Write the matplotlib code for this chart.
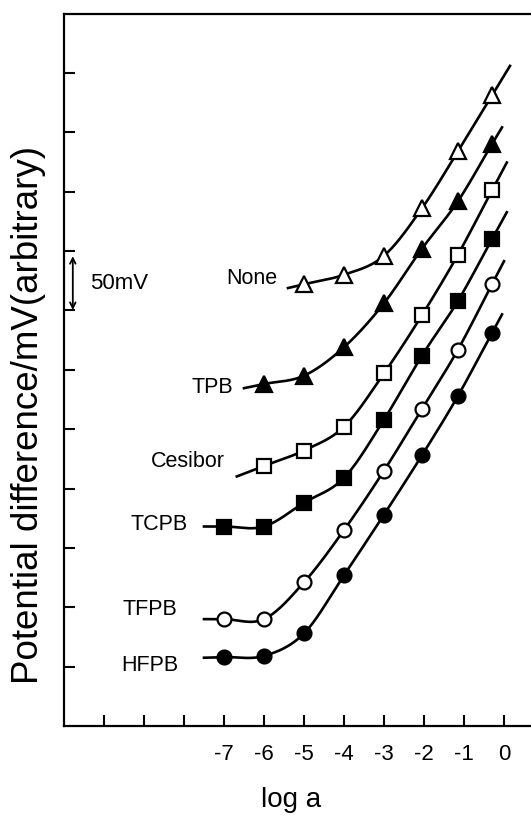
#!/usr/bin/env python3
"""
Potential difference vs log a for membranes with different borate additives
"""
import numpy as np
import matplotlib
matplotlib.use('Agg')
import matplotlib.pyplot as plt

# log a values (the shorter series start further right)
log_a = [-7, -6, -5, -4, -3, -2.05, -1.15, -0.3]

series_names = ['None', 'TPB', 'Cesibor', 'TCPB', 'TFPB', 'HFPB']

# potential difference, mV (arbitrary zero)
none_mv = [372, 380, 396, 436, 484, 531]
tpb_mv = [288, 295, 319, 356, 402, 442, 490]
cesibor_mv = [219, 232, 252, 297, 346, 397, 451]
tcpb_mv = [168, 168, 188, 209, 258, 312, 358, 410]
tfpb_mv = [90, 90, 121, 165, 215, 267, 317, 372]
hfpb_mv = [58, 59, 78, 127, 178, 228, 278, 331]

x_ticks = [-10, -9, -8, -7, -6, -5, -4, -3, -2, -1, 0]
x_tick_labels = ['', '', '', '-7', '-6', '-5', '-4', '-3', '-2', '-1', '0']


def smooth_curve(x, y, lead, tail):
    """Cubic Hermite curve through the points, plus short straight ends"""
    x = np.asarray(x, float)
    y = np.asarray(y, float)
    h = np.diff(x)
    d = np.diff(y) / h
    m = np.empty_like(x)
    m[0], m[-1] = d[0], d[-1]
    for k in range(1, len(x) - 1):
        # three-point slope estimate
        m[k] = (h[k] * d[k - 1] + h[k - 1] * d[k]) / (h[k - 1] + h[k])

    xs = [x[0] - lead]
    ys = [y[0] - m[0] * lead]
    t = np.linspace(0, 1, 40)
    for k in range(len(h)):
        h00 = 2 * t**3 - 3 * t**2 + 1
        h10 = t**3 - 2 * t**2 + t
        h01 = -2 * t**3 + 3 * t**2
        h11 = t**3 - t**2
        xs.extend(x[k] + t * h[k])
        ys.extend(h00 * y[k] + h10 * h[k] * m[k] + h01 * y[k + 1] + h11 * h[k] * m[k + 1])
    xs.append(x[-1] + tail)
    ys.append(y[-1] + m[-1] * tail)
    return xs, ys


def main():
    plt.rcParams['font.family'] = ['Liberation Sans', 'DejaVu Sans']

    fig = plt.figure(figsize=(5.31, 8.25), dpi=100)
    ax = fig.add_axes([64 / 531, 1 - 726 / 825, 1 - 64 / 531, (726 - 13.5) / 825])

    values = [none_mv, tpb_mv, cesibor_mv, tcpb_mv, tfpb_mv, hfpb_mv]
    markers = ['^', '^', 's', 's', 'o', 'o']
    filled = [False, True, False, True, False, True]
    leads = [0.4, 0.5, 0.68, 0.5, 0.5, 0.5]
    tails = [0.45, 0.25, 0.37, 0.37, 0.3, 0.25]
    # label anchor: right edge x, centre y
    label_pos = [(-5.66, 377), (-6.77, 285), (-6.98, 223),
                 (-7.92, 170), (-8.17, 98), (-8.13, 51)]

    for name, vals, mk, fill, lead, tail, (lx, ly) in zip(
            series_names, values, markers, filled, leads, tails, label_pos):
        xv = log_a[-len(vals):]
        cx, cy = smooth_curve(xv, vals, lead, tail)
        ax.plot(cx, cy, color='black', lw=1.9, zorder=2)
        ax.plot(xv, vals, linestyle='none', marker=mk, ms=10 if mk != '^' else 11.5,
                mfc='black' if fill else 'white', mec='black', mew=1.6, zorder=3)
        ax.text(lx, ly, name, ha='right', va='center', fontsize=15.5)

    # 50 mV scale arrow
    ax.annotate('', xy=(-10.78, 348), xytext=(-10.78, 398),
                arrowprops=dict(arrowstyle='<->', color='black', lw=1.3,
                                mutation_scale=10))
    ax.text(-10.35, 373, '50mV', ha='left', va='center', fontsize=16)

    ax.set_xlim(-11, 0.675)
    ax.set_ylim(0, 600)
    ax.set_xticks(x_ticks)
    ax.set_xticklabels(x_tick_labels, fontsize=16)
    ax.set_yticks(np.arange(50, 551, 50))
    ax.set_yticklabels([])
    ax.tick_params(axis='both', direction='in', length=8, width=1.5)
    ax.tick_params(axis='x', pad=13)

    ax.spines['right'].set_visible(False)
    for side in ['left', 'top', 'bottom']:
        ax.spines[side].set_linewidth(1.6)

    fig.text(29 / 531, 1 - 415 / 825, 'Potential difference/mV(arbitrary)',
             rotation=90, ha='center', va='center', fontsize=26.5)
    fig.text(291 / 531, 1 - 800 / 825, 'log a', ha='center', va='center', fontsize=20)

    fig.savefig('out.png', dpi=100, facecolor='white')
    plt.close(fig)


if __name__ == '__main__':
    main()
